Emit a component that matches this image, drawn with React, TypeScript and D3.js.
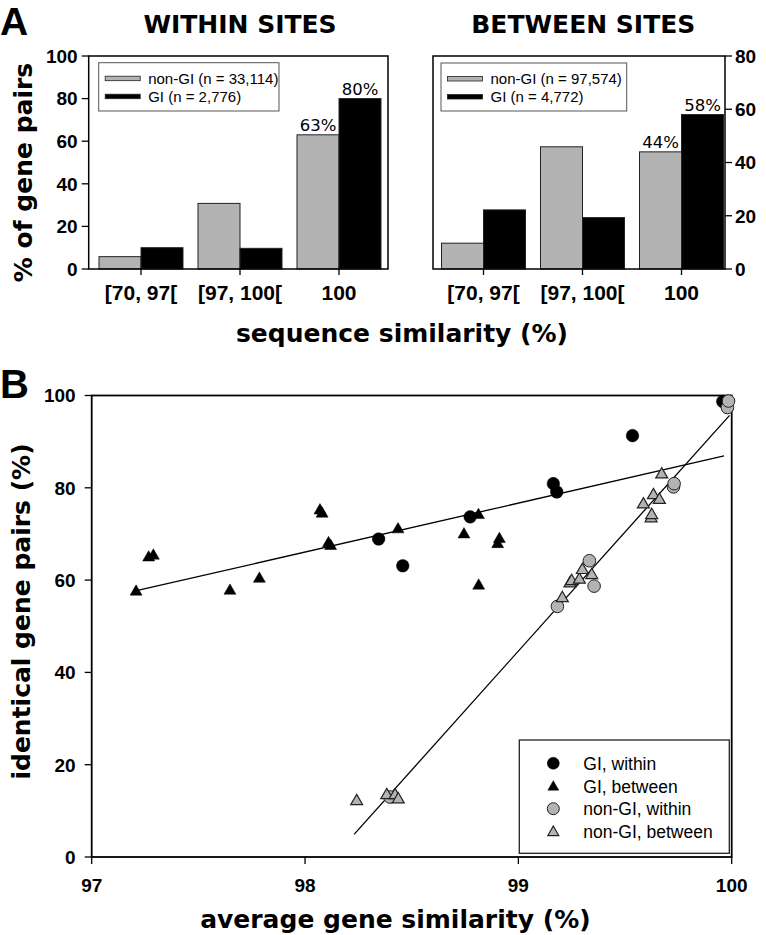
import React from "react";
import * as d3 from "d3";

// ---------- Panel A data ----------
const categories = ["[70, 97[", "[97, 100[", "100"];
const seriesKeys = ["nonGI", "GI"];
const withinNonGI = [5.8, 30.8, 63];
const withinGI = [10, 9.7, 80];
const betweenNonGI = [9.7, 45.9, 44];
const betweenGI = [22.2, 19.3, 58];
const withinLegend = ["non-GI (n = 33,114)", "GI (n = 2,776)"];
const betweenLegend = ["non-GI (n = 97,574)", "GI (n = 4,772)"];
const withinTicks = [0, 20, 40, 60, 80, 100];
const betweenTicks = [0, 20, 40, 60, 80];

// ---------- Panel B data ----------
const giWithin: [number, number][] = [
  [98.345, 68.9], [98.458, 63.1], [98.774, 73.7], [99.164, 80.9],
  [99.18, 79.1], [99.535, 91.3], [99.958, 98.7],
];
const giBetween: [number, number][] = [
  [97.208, 57.7], [97.267, 65.1], [97.289, 65.5], [97.648, 57.9],
  [97.786, 60.5], [98.07, 75.3], [98.08, 74.6], [98.11, 68.2],
  [98.12, 67.6], [98.436, 71.2], [98.745, 70.1], [98.813, 74.3],
  [98.814, 59.0], [98.903, 68.0], [98.911, 69.1],
];
const nonGiWithin: [number, number][] = [
  [98.398, 13.0], [99.183, 54.3], [99.333, 64.2], [99.355, 58.7],
  [99.727, 80.2], [99.73, 80.9], [99.98, 97.4], [99.985, 98.8],
];
const nonGiBetween: [number, number][] = [
  [98.242, 12.3], [98.383, 13.6], [98.422, 13.6], [98.437, 12.7],
  [99.206, 56.3], [99.242, 59.5], [99.25, 60.0], [99.286, 60.3],
  [99.3, 62.4], [99.344, 61.3], [99.586, 76.6], [99.622, 73.6],
  [99.625, 74.3], [99.633, 78.6], [99.661, 77.6], [99.672, 83.1],
];
const giFit: [number, number][] = [[97.21, 57.7], [99.964, 86.9]];
const nonGiFit: [number, number][] = [[98.23, 4.9], [99.99, 95.7]];
const bXTicks = [97, 98, 99, 100];
const bYTicks = [0, 20, 40, 60, 80, 100];
const bLegend = ["GI, within", "GI, between", "non-GI, within", "non-GI, between"];

const GRAY = "#b3b3b3";
const BOLD_SANS = "'DejaVu Sans', Verdana, sans-serif";
const ARIAL = "'Liberation Sans', Arial, Helvetica, sans-serif";

type BarPanelProps = {
  x0: number; x1: number; bandRange: [number, number];
  yMax: number; ticks: number[]; axisRight: boolean;
  nonGI: number[]; GI: number[]; legend: string[];
  legendBox: [number, number, number, number];
  title: string; titleX: number;
};

const yTop = 56, yBot = 269;

function BarPanel(p: BarPanelProps) {
  const x = d3.scaleBand<string>().domain(categories).range(p.bandRange)
    .paddingInner(15 / 99).paddingOuter(7.5 / 99);
  const xs = d3.scaleBand<string>().domain(seriesKeys).range([0, x.bandwidth()]);
  const y = d3.scaleLinear().domain([0, p.yMax]).range([yBot, yTop]);
  const vals: Record<string, number[]> = { nonGI: p.nonGI, GI: p.GI };
  const [lx, ly, lw, lh] = p.legendBox;
  const axX = p.axisRight ? p.x1 : p.x0;
  return (
    <g>
      <text x={p.titleX} y={33} textAnchor="middle" fontFamily={BOLD_SANS}
        fontWeight="bold" fontSize={25}>{p.title}</text>
      {categories.map((c, i) =>
        seriesKeys.map((s) => {
          const v = vals[s][i];
          return (
            <rect key={c + s} x={(x(c) as number) + (xs(s) as number)} y={y(v)}
              width={xs.bandwidth()} height={yBot - y(v)}
              fill={s === "GI" ? "#000" : GRAY} stroke="#222" strokeWidth={1} />
          );
        })
      )}
      {seriesKeys.map((s) => {
        const i = categories.length - 1;
        const v = vals[s][i];
        const c = categories[i];
        return (
          <text key={"lab" + s} x={(x(c) as number) + (xs(s) as number) + xs.bandwidth() / 2}
            y={y(v) - 4} textAnchor="middle" fontFamily="'DejaVu Sans', sans-serif"
            fontSize={16.5}>{`${Math.round(v)}%`}</text>
        );
      })}
      <rect x={p.x0} y={yTop} width={p.x1 - p.x0} height={yBot - yTop} fill="none"
        stroke="#000" strokeWidth={1.5} />
      {p.ticks.map((t) => (
        <g key={"t" + t}>
          <line x1={axX} x2={p.axisRight ? axX + 7 : axX - 7} y1={y(t)} y2={y(t)}
            stroke="#000" strokeWidth={1.3} />
          <text x={p.axisRight ? axX + 10 : axX - 11} y={y(t)} dy="0.36em"
            textAnchor={p.axisRight ? "start" : "end"} fontFamily={ARIAL}
            fontWeight="bold" fontSize={19}>{t}</text>
        </g>
      ))}
      {categories.map((c) => {
        const cx = (x(c) as number) + x.bandwidth() / 2;
        return (
          <g key={"c" + c}>
            <line x1={cx} x2={cx} y1={yBot} y2={yBot + 6} stroke="#000" strokeWidth={1.3} />
            <text x={cx} y={300} textAnchor="middle" fontFamily={ARIAL} fontWeight="bold"
              fontSize={21}>{c}</text>
          </g>
        );
      })}
      <rect x={lx} y={ly} width={lw} height={lh} fill="#fff" stroke="#555" strokeWidth={1} />
      {p.legend.map((l, i) => (
        <g key={l}>
          <rect x={lx + 6.5} y={ly + 13.5 + i * 18} width={35} height={4.5}
            fill={i === 0 ? GRAY : "#000"} stroke="#222" strokeWidth={0.8} />
          <text x={lx + 49.5} y={ly + 21 + i * 18} fontFamily={ARIAL} fontSize={15}>{l}</text>
        </g>
      ))}
    </g>
  );
}

export default function App() {
  const bx = d3.scaleLinear().domain([97, 100]).range([91.7, 731.7]);
  const by = d3.scaleLinear().domain([0, 100]).range([857, 395.5]);
  const line = d3.line<[number, number]>().x((d) => bx(d[0])).y((d) => by(d[1]));
  const tri = d3.symbol(d3.symbolTriangle, 62)();
  const triLeg = d3.symbol(d3.symbolTriangle, 52)();
  const circle = (key: string, cx: number, cy: number, fill: string, r = 6.3) => (
    <circle key={key} cx={cx} cy={cy} r={r} fill={fill} stroke={fill === "#000" ? "#000" : "#222"}
      strokeWidth={fill === "#000" ? 0.5 : 1} />
  );
  const triangle = (key: string, cx: number, cy: number, fill: string, d = tri) => (
    <path key={key} d={d as string} transform={`translate(${cx},${cy + 1})`} fill={fill}
      stroke={fill === "#000" ? "#000" : "#222"} strokeWidth={fill === "#000" ? 0.5 : 1.2} />
  );
  const legX = 519.3, legY = 740, legW = 210, legH = 113.3;
  return (
    <svg width={766} height={935} style={{ position: "absolute", left: 0, top: 0, background: "#fff" }}>
      <rect width={766} height={935} fill="#fff" />
      <text x={0} y={35} fontFamily={ARIAL} fontWeight="bold" fontSize={39}>A</text>
      <BarPanel x0={88.7} x1={388} bandRange={[91.5, 388.5]} yMax={100} ticks={withinTicks}
        axisRight={false} nonGI={withinNonGI} GI={withinGI} legend={withinLegend}
        legendBox={[98.7, 62.7, 180.3, 48.3]} title="WITHIN SITES" titleX={240} />
      <BarPanel x0={433} x1={725} bandRange={[434, 731]} yMax={80} ticks={betweenTicks}
        axisRight={true} nonGI={betweenNonGI} GI={betweenGI} legend={betweenLegend}
        legendBox={[441, 63, 185.7, 48]} title="BETWEEN SITES" titleX={583.3} />
      <text transform="translate(32,172.5) rotate(-90)" textAnchor="middle" fontFamily={BOLD_SANS}
        fontWeight="bold" fontSize={25}>% of gene pairs</text>
      <text x={402} y={341.7} textAnchor="middle" fontFamily={BOLD_SANS} fontWeight="bold"
        fontSize={25}>sequence similarity (%)</text>

      {/* Panel B */}
      <text x={0} y={398} fontFamily={ARIAL} fontWeight="bold" fontSize={40}>B</text>
      <rect x={bx(97)} y={by(100)} width={bx(100) - bx(97)} height={by(0) - by(100)}
        fill="none" stroke="#000" strokeWidth={1.8} />
      {bYTicks.map((t) => (
        <g key={"by" + t}>
          <line x1={bx(97) - 7} x2={bx(97)} y1={by(t)} y2={by(t)} stroke="#000" strokeWidth={1.3} />
          <text x={bx(97) - 16} y={by(t)} dy="0.36em" textAnchor="end" fontFamily={ARIAL}
            fontWeight="bold" fontSize={19}>{t}</text>
        </g>
      ))}
      {bXTicks.map((t) => (
        <g key={"bx" + t}>
          <line x1={bx(t)} x2={bx(t)} y1={by(0)} y2={by(0) + 7} stroke="#000" strokeWidth={1.3} />
          <text x={bx(t)} y={892} textAnchor="middle" fontFamily={ARIAL} fontWeight="bold"
            fontSize={19}>{t}</text>
        </g>
      ))}
      <text transform="translate(30,611.5) rotate(-90)" textAnchor="middle" fontFamily={BOLD_SANS}
        fontWeight="bold" fontSize={25}>identical gene pairs (%)</text>
      <text x={395.4} y={928} textAnchor="middle" fontFamily={BOLD_SANS} fontWeight="bold"
        fontSize={25}>average gene similarity (%)</text>

      <path d={line(giFit) as string} fill="none" stroke="#000" strokeWidth={1.3} />
      <path d={line(nonGiFit) as string} fill="none" stroke="#000" strokeWidth={1.3} />

      {giBetween.map((d, i) => triangle("gb" + i, bx(d[0]), by(d[1]), "#000"))}
      {giWithin.map((d, i) => circle("gw" + i, bx(d[0]), by(d[1]), "#000"))}
      {nonGiWithin.map((d, i) => circle("nw" + i, bx(d[0]), by(d[1]), GRAY))}
      {nonGiBetween.map((d, i) => triangle("nb" + i, bx(d[0]), by(d[1]), GRAY))}

      <rect x={legX} y={legY} width={legW} height={legH} fill="#fff" stroke="#222" strokeWidth={1.3} />
      {bLegend.map((l, i) => {
        const cy = legY + 23.3 + i * 22.7;
        const sx = legX + 34;
        const fill = i < 2 ? "#000" : GRAY;
        return (
          <g key={l}>
            {i % 2 === 0 ? circle("lc" + i, sx, cy, fill, 6) : triangle("lt" + i, sx, cy, fill, triLeg)}
            <text x={legX + 64} y={cy + 6.5} fontFamily={ARIAL} fontSize={17.5}>{l}</text>
          </g>
        );
      })}
    </svg>
  );
}
